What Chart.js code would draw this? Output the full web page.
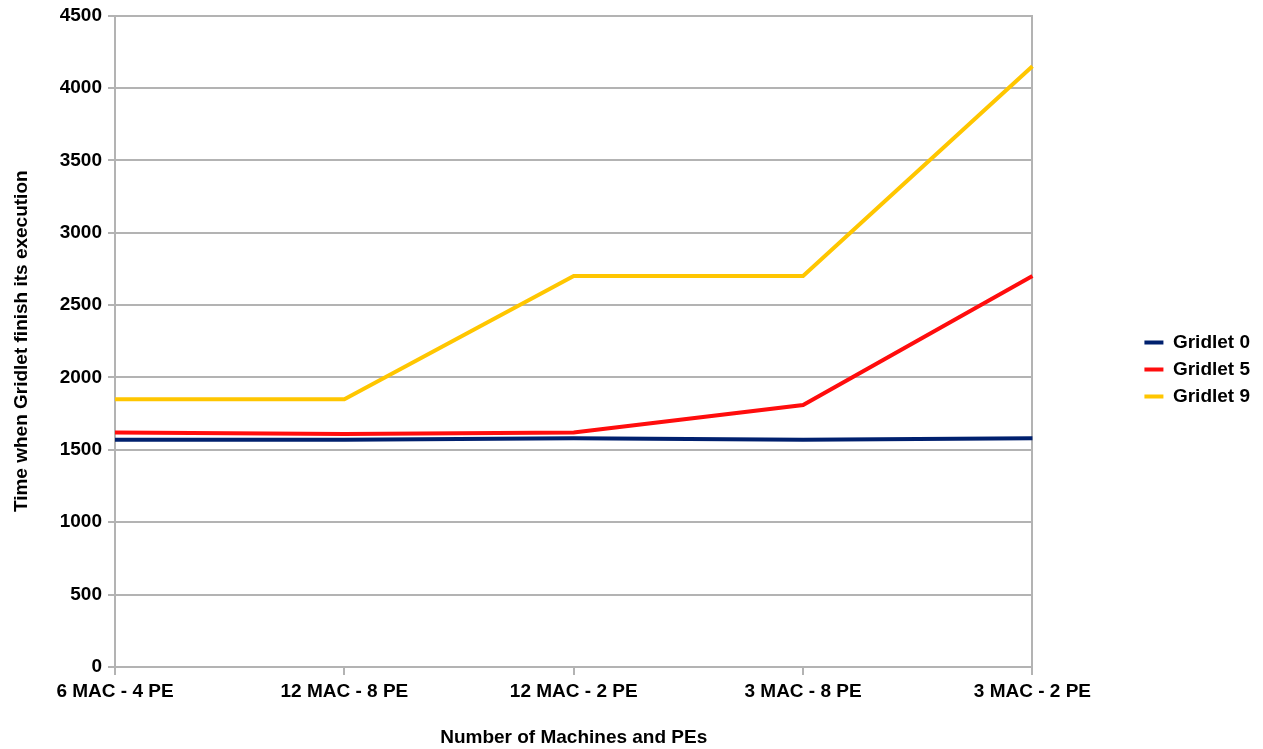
<!DOCTYPE html>
<html>
<head>
<meta charset="utf-8">
<script src="https://cdn.jsdelivr.net/npm/chart.js@4.4.1/dist/chart.umd.min.js"></script>
<style>
  html, body { margin: 0; padding: 0; background: #fff; }
  #wrap { width: 1263px; height: 749px; }
</style>
</head>
<body>
<div id="wrap"><canvas id="finishChart" width="1263" height="749"></canvas></div>
<script>
const configLabels = ["6 MAC - 4 PE", "12 MAC - 8 PE", "12 MAC - 2 PE", "3 MAC - 8 PE", "3 MAC - 2 PE"];
const gridlet0 = [1570, 1570, 1580, 1570, 1580];
const gridlet5 = [1620, 1610, 1620, 1810, 2700];
const gridlet9 = [1850, 1850, 2700, 2700, 4150];
const yMin = 0, yMax = 4500, yStep = 500;

const GRID = "#b3b3b3";

Chart.defaults.font.family = "'Liberation Sans', Arial, sans-serif";
Chart.defaults.font.size = 19;
Chart.defaults.font.weight = "bold";
Chart.defaults.color = "#000";

function series(label, data, color){
    return {
        label: label,
        data: data,
        borderColor: color,
        backgroundColor: color,
        borderWidth: 4,
        pointRadius: 0,
        tension: 0,
        fill: false
    };
}

// lift the legend block a little above the vertical middle
const legendLift = {
    id: "legendLift",
    afterLayout(chart){
        if(chart.legend){ chart.legend.bottom -= 22; }
    }
};

const ctx = document.getElementById("finishChart").getContext("2d");
new Chart(ctx, {
    type: "line",
    data: {
        labels: configLabels,
        datasets: [
            series("Gridlet 0", gridlet0, "#00206e"),
            series("Gridlet 5", gridlet5, "#ff0d0d"),
            series("Gridlet 9", gridlet9, "#ffc600")
        ]
    },
    plugins: [legendLift],
    options: {
        responsive: false,
        animation: false,
        layout: { padding: { top: 12, right: 3, left: 0, bottom: 0 } },
        plugins: {
            tooltip: { enabled: false },
            legend: {
                position: "right",
                labels: {
                    boxWidth: 19,
                    boxHeight: 4,
                    padding: 8,
                    color: "#000",
                    generateLabels: (chart) => Chart.defaults.plugins.legend.labels.generateLabels(chart)
                        .map((item) => Object.assign(item, { lineWidth: 0 }))
                }
            }
        },
        scales: {
            x: {
                type: "category",
                offset: false,
                border: { color: GRID, width: 2 },
                grid: { drawOnChartArea: false, drawTicks: true, tickLength: 8, color: GRID, lineWidth: 2 },
                ticks: { padding: 5, maxRotation: 0, autoSkip: false },
                title: { display: true, text: "Number of Machines and PEs", padding: { top: 4, bottom: 0 } },
                afterFit: (scale) => { scale.height = 82; }
            },
            y: {
                min: yMin,
                max: yMax,
                border: { color: GRID, width: 2 },
                grid: { color: GRID, lineWidth: 2, tickLength: 7 },
                ticks: { stepSize: yStep, padding: 6, font: { lineHeight: 1 }, callback: (v) => String(v) },
                title: { display: true, text: "Time when Gridlet finish its execution", padding: { top: 10, bottom: 0 } },
                afterFit: (scale) => { scale.width = 115; }
            },
            // right-hand frame line, also spaces the legend away from the plot
            yRight: {
                position: "right",
                display: true,
                border: { color: GRID, width: 2 },
                grid: { drawOnChartArea: false, drawTicks: false },
                ticks: { display: false },
                afterFit: (scale) => { scale.width = 104; }
            }
        }
    }
});
</script>
</body>
</html>
